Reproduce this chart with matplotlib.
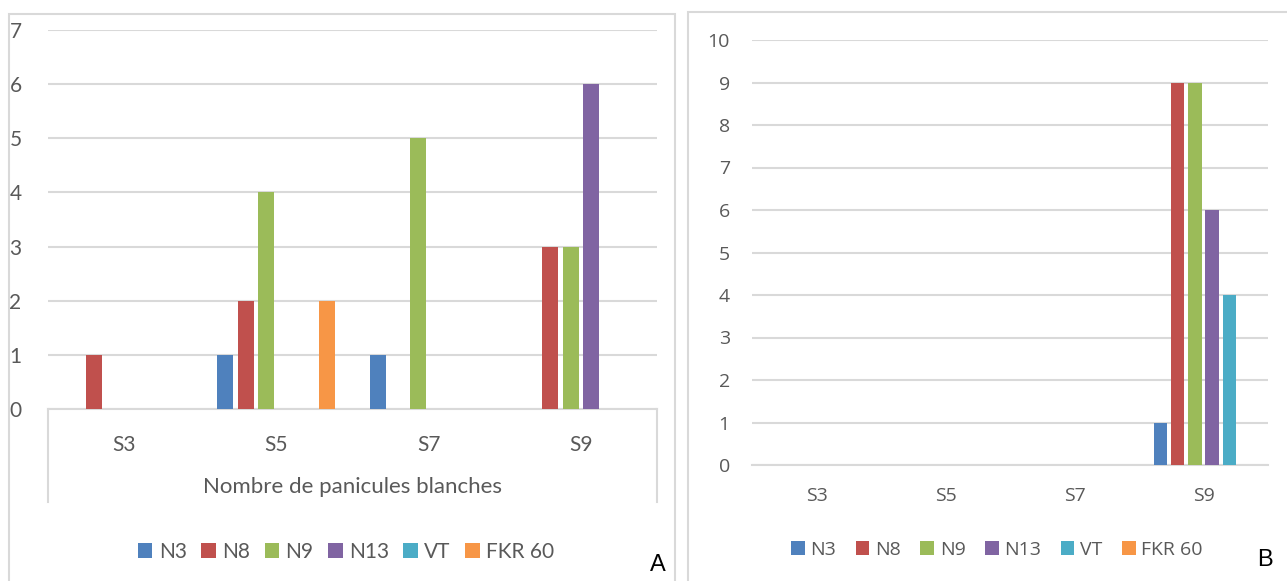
import matplotlib
matplotlib.use("Agg")
import matplotlib.pyplot as plt
from matplotlib.patches import Rectangle, Patch
from matplotlib.lines import Line2D

# semaines d'observation et variétés
categories = ["S3", "S5", "S7", "S9"]
varietes = ["N3", "N8", "N9", "N13", "VT", "FKR 60"]
couleurs = ["#4f81bd", "#c0504d", "#9bbb59", "#8064a2", "#4bacc6", "#f79646"]

# panneau A : nombre de panicules blanches
a_n3 = [0, 1, 1, 0]
a_n8 = [1, 2, 0, 3]
a_n9 = [0, 4, 5, 3]
a_n13 = [0, 0, 0, 6]
a_vt = [0, 0, 0, 0]
a_fkr60 = [0, 2, 0, 0]

# panneau B
b_n3 = [0, 0, 0, 1]
b_n8 = [0, 0, 0, 9]
b_n9 = [0, 0, 0, 9]
b_n13 = [0, 0, 0, 6]
b_vt = [0, 0, 0, 4]
b_fkr60 = [0, 0, 0, 0]

W, H = 1287, 581
GRIS = "#d9d9d9"
TEXTE = "#595959"

fig = plt.figure(figsize=(W / 100, H / 100), dpi=100)


def px_rect(x0, y0, x1, y1):
    # coordonnées pixels (origine en haut à gauche) -> fraction de figure
    return [x0 / W, 1 - y1 / H, (x1 - x0) / W, (y1 - y0) / H]


def cadre(x0, y0, x1, y1):
    fig.add_artist(Rectangle((x0 / W, 1 - y1 / H), (x1 - x0) / W, (y1 - y0) / H,
                             transform=fig.transFigure, fill=False,
                             edgecolor=GRIS, lw=1.5, zorder=-1))


def barres(ax, series, ymax, police, taille, pad_y, pad_x):
    pas, larg = 0.134, 0.105
    for k, (vals, c) in enumerate(zip(series, couleurs)):
        xs = [i + (k - 2.5) * pas for i in range(len(categories))]
        ax.bar(xs, vals, width=larg, color=c, linewidth=0, zorder=3)
    ax.set_xlim(-0.5, 3.5)
    ax.set_ylim(0, ymax)
    ax.set_yticks(range(ymax + 1))
    ax.set_xticks(range(len(categories)))
    ax.set_xticklabels(categories)
    ax.grid(axis="y", color=GRIS, lw=1.5, zorder=0)
    ax.set_axisbelow(True)
    for s in ["top", "right", "left"]:
        ax.spines[s].set_visible(False)
    ax.spines["bottom"].set_color(GRIS)
    ax.spines["bottom"].set_linewidth(1.5)
    ax.tick_params(axis="y", length=0, pad=pad_y, labelsize=taille, labelcolor=TEXTE)
    ax.tick_params(axis="x", length=0, pad=pad_x, labelsize=taille, labelcolor=TEXTE)
    for lab in ax.get_xticklabels() + ax.get_yticklabels():
        lab.set_family(police)


def legende(cx, cy, police, taille, espace):
    poignees = [Patch(facecolor=c, edgecolor="none") for c in couleurs]
    fig.legend(poignees, varietes, loc="center", bbox_to_anchor=(cx / W, 1 - cy / H),
               ncol=6, frameon=False, handlelength=0.7, handleheight=0.7,
               handletextpad=0.3, columnspacing=espace,
               prop={"family": police, "size": taille}, labelcolor=TEXTE)


# --- panneau A ---
cadre(9, 14, 675, 600)
ax_a = fig.add_axes(px_rect(48, 30, 657, 409))
barres(ax_a, [a_n3, a_n8, a_n9, a_n13, a_vt, a_fkr60], 7, "Lato", 15, 19, 19)
for x in (48, 657):
    fig.add_artist(Line2D([x / W, x / W], [1 - 409 / H, 1 - 502 / H],
                          transform=fig.transFigure, color=GRIS, lw=1.5))
fig.text(352 / W, 1 - 487 / H, "Nombre de panicules blanches", ha="center", va="center",
         family="Lato", fontsize=16, color=TEXTE)
legende(346, 552, "Lato", 15, 0.7)
fig.text(658 / W, 1 - 565 / H, "A", ha="center", va="center",
         family="Liberation Sans", fontsize=17, color="black")

# --- panneau B ---
cadre(688, 12, 1300, 600)
ax_b = fig.add_axes(px_rect(752, 40, 1268, 465))
barres(ax_b, [b_n3, b_n8, b_n9, b_n13, b_vt, b_fkr60], 10, "Open Sans", 14, 16, 16)
legende(997, 550, "Open Sans", 14, 1.0)
fig.text(1265 / W, 1 - 560 / H, "B", ha="center", va="center",
         family="Liberation Sans", fontsize=17, color="black")

fig.savefig("out.png", dpi=100)
